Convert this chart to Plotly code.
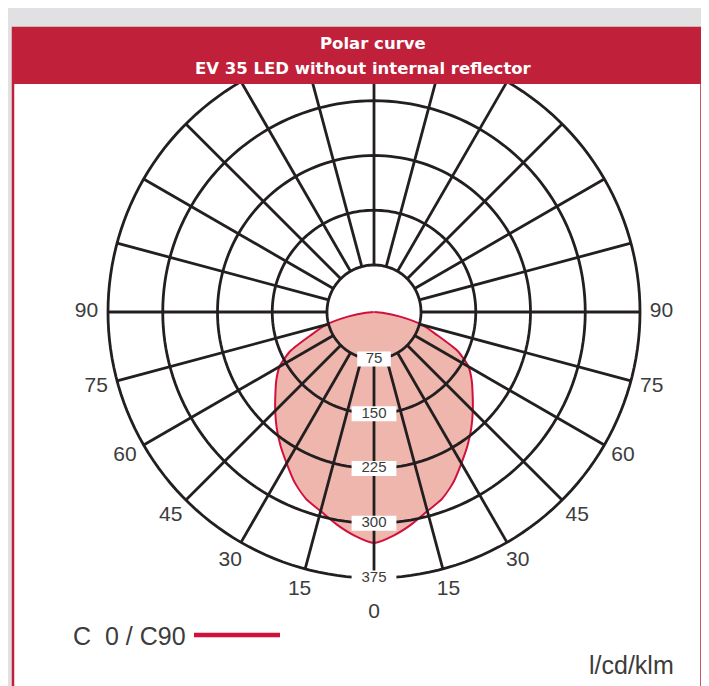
import plotly.graph_objects as go

# ---------------- data ----------------
gamma_deg = [0, 5, 10, 15, 20, 25, 30, 35, 40, 45, 50, 55, 60, 65, 70, 75, 80, 85, 90]
intensity_c0_c90 = [327, 318, 306, 293, 283, 268, 250, 234, 218, 202, 187, 174, 160, 137, 102, 79, 47, 22, 11]

ring_values = [75, 150, 225, 300, 375]
spoke_angles = list(range(0, 360, 15))
angle_tickvals = [0, 15, 30, 45, 60, 75, 90, 270, 285, 300, 315, 330, 345]
angle_ticktext = ["0", "15", "30", "45", "60", "75", "90", "90", "75", "60", "45", "30", "15"]
radial_label_values = [75, 150, 225, 300, 375]

title_line1 = "Polar curve"
title_line2 = "EV 35 LED without internal reflector"
legend_label = "C\u00a0 0 / C90"
unit_label = "l/cd/klm"

# ---------------- styling / geometry ----------------
OFF = 8                      # page body margin of the browser
W, H = 709 - OFF, 686 - OFF  # figure fits the window exactly
RED_HEADER = "#c1203a"
CURVE_RED = "#d1103c"
FILL_PINK = "#efb6ae"
GRID = "#231f20"
TEXT = "#3c3c3c"
PAGE_GRAY = "#e1e1e3"

CX, CY = 374, 312            # centre in window pixels
R_MIN, R_OUTER = 10.6, 375   # value at centre, value of outer ring
R_OUTER_PX = 266             # outer ring radius in pixels
PX_PER_UNIT = R_OUTER_PX / (R_OUTER - R_MIN)
R_AXIS_MAX = 425             # room outside the outer ring for the angle labels
R_AXIS_PX = (R_AXIS_MAX - R_MIN) * PX_PER_UNIT


def px_x(p):
    return (p - OFF) / W


def px_y(p):
    return 1 - (p - OFF) / H


# full symmetric curve (C0 / C90), left side negative angles
theta_curve = [-g for g in reversed(gamma_deg[1:])] + gamma_deg
r_curve = list(reversed(intensity_c0_c90[1:])) + intensity_c0_c90

# grid rings and spokes as traces (drawn above the fill)
ring_theta, ring_r = [], []
for v in ring_values:
    for a in range(0, 361, 2):
        ring_theta.append(a)
        ring_r.append(v)
    ring_theta.append(None)
    ring_r.append(None)

spoke_theta, spoke_r = [], []
for a in spoke_angles:
    spoke_theta += [a, a, None]
    spoke_r += [ring_values[0], ring_values[-1], None]

# angle labels sit a fixed pixel distance outside the outer ring (the 0 a bit further)
label_r = [R_OUTER + (35 if t == 0 else 21.5) / PX_PER_UNIT for t in angle_tickvals]

fig = go.Figure()
fig.add_trace(go.Scatterpolar(
    r=r_curve, theta=theta_curve, mode="lines", fill="toself",
    fillcolor=FILL_PINK, line=dict(color=CURVE_RED, width=2, shape="spline", smoothing=0.6),
    hoverinfo="skip", showlegend=False))
fig.add_trace(go.Scatterpolar(
    r=ring_r, theta=ring_theta, mode="lines",
    line=dict(color=GRID, width=2.8), hoverinfo="skip", showlegend=False))
fig.add_trace(go.Scatterpolar(
    r=spoke_r, theta=spoke_theta, mode="lines",
    line=dict(color=GRID, width=2.8), hoverinfo="skip", showlegend=False))
fig.add_trace(go.Scatterpolar(
    r=radial_label_values, theta=[0] * len(radial_label_values),
    mode="markers+text", text=[str(v) for v in radial_label_values],
    textposition="middle center",
    textfont=dict(family="Liberation Sans, Arial", size=15, color=TEXT),
    marker=dict(symbol="line-ew", size=[24, 32, 32, 32, 32], color="white", opacity=1,
                line=dict(color="white", width=15)),
    cliponaxis=False, hoverinfo="skip", showlegend=False))
fig.add_trace(go.Scatterpolar(
    r=label_r, theta=angle_tickvals, mode="text", text=angle_ticktext,
    textposition="middle center",
    textfont=dict(family="Liberation Sans, Arial", size=21, color=TEXT),
    cliponaxis=False, hoverinfo="skip", showlegend=False))

fig.update_layout(
    width=W, height=H,
    margin=dict(l=0, r=0, t=0, b=0),
    paper_bgcolor=PAGE_GRAY,
    showlegend=False,
    polar=dict(
        domain=dict(x=[px_x(CX - R_AXIS_PX), px_x(CX + R_AXIS_PX)],
                    y=[px_y(CY + R_AXIS_PX), px_y(CY - R_AXIS_PX)]),
        bgcolor="rgba(0,0,0,0)",
        radialaxis=dict(range=[R_MIN, R_AXIS_MAX], visible=False, showgrid=False),
        angularaxis=dict(
            rotation=-90, direction="counterclockwise",
            showgrid=False, showline=False, showticklabels=False, ticks="",
        ),
    ),
    shapes=[
        # white panel with red border
        dict(type="rect", xref="paper", yref="paper", x0=px_x(13), x1=px_x(701.5),
             y0=-0.02, y1=px_y(28), fillcolor="white",
             line=dict(color=RED_HEADER, width=2.5), layer="below"),
        # red header bar (over the chart)
        dict(type="rect", xref="paper", yref="paper", x0=px_x(12), x1=px_x(703),
             y0=px_y(84), y1=px_y(28), fillcolor=RED_HEADER,
             line=dict(width=0), layer="above"),
        # legend line
        dict(type="line", xref="paper", yref="paper", x0=px_x(194), x1=px_x(280),
             y0=px_y(635), y1=px_y(635), line=dict(color=CURVE_RED, width=4.5),
             layer="above"),
    ],
    annotations=[
        dict(text=title_line1, xref="paper", yref="paper", x=px_x(373), y=px_y(44),
             xanchor="center", yanchor="middle", showarrow=False,
             font=dict(family="DejaVu Sans", size=16.5, color="white", weight="bold")),
        dict(text=title_line2, xref="paper", yref="paper", x=px_x(363), y=px_y(68),
             xanchor="center", yanchor="middle", showarrow=False,
             font=dict(family="DejaVu Sans", size=16.5, color="white", weight="bold")),
        dict(text=legend_label, xref="paper", yref="paper", x=px_x(71), y=px_y(636),
             xanchor="left", yanchor="middle", showarrow=False,
             font=dict(family="Liberation Sans, Arial", size=25, color=TEXT)),
        dict(text=unit_label, xref="paper", yref="paper", x=px_x(631), y=px_y(665),
             xanchor="center", yanchor="middle", showarrow=False,
             font=dict(family="Liberation Sans, Arial", size=25, color=TEXT)),
    ],
)

fig.write_html("out.html")
